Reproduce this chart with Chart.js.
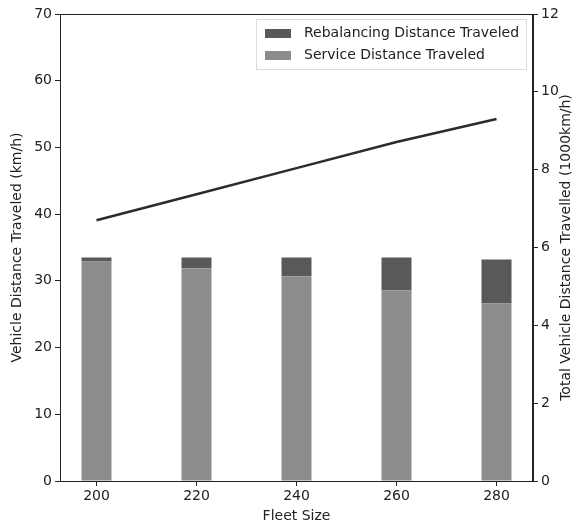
<!DOCTYPE html>
<html>
<head>
<meta charset="utf-8">
<script src="https://cdn.jsdelivr.net/npm/chart.js@4"></script>
<style>
  body { margin: 0; background: #fff; }
  #wrap { width: 579px; height: 526px; }
</style>
</head>
<body>
<div id="wrap"><canvas id="fleetChart" width="579" height="526"></canvas></div>
<script>
// Fleet sizes and per-vehicle distances (km/h)
const fleetSizes = [200, 220, 240, 260, 280];
const serviceDistance = [32.9, 31.9, 30.7, 28.6, 26.6];
const rebalancingDistance = [0.6, 1.6, 2.8, 4.9, 6.6];
// Total fleet distance (1000 km/h)
const totalDistance = [6.70, 7.37, 8.04, 8.71, 9.30];

const leftTicks = [0, 10, 20, 30, 40, 50, 60, 70];
const rightTicks = [0, 2, 4, 6, 8, 10, 12];

const FONT = 'DejaVu Sans';
const INK = '#222';
const RIGHT_TITLE = 'Total Vehicle Distance Travelled (1000km/h)';

function toPoints(values) {
    return fleetSizes.map((f, i) => ({ x: f, y: values[i] }));
}

// Legend inside the plot area, box around the axes, right-hand axis title
const framePlugin = {
    id: 'frame',
    afterDraw(chart) {
        const ctx = chart.ctx;
        const a = chart.chartArea;
        ctx.save();
        ctx.strokeStyle = INK;
        ctx.lineWidth = 1;
        ctx.strokeRect(a.left + 0.5, a.top + 0.5, a.right - a.left - 1, a.bottom - a.top);

        // faint legend frame
        ctx.strokeStyle = '#dcdcdc';
        ctx.strokeRect(256.5, 19.5, 270, 50);

        const items = [chart.data.datasets[1], chart.data.datasets[0]];
        ctx.font = '14px "' + FONT + '"';
        ctx.textBaseline = 'middle';
        items.forEach((ds, i) => {
            const y = 33 + i * 22;
            ctx.fillStyle = ds.backgroundColor;
            ctx.fillRect(265, y - 4, 26, 9);
            ctx.fillStyle = INK;
            ctx.fillText(ds.label, 304, y);
        });

        // rotated so it reads bottom-to-top, same as the left title
        ctx.translate(566, (a.top + a.bottom) / 2);
        ctx.rotate(-Math.PI / 2);
        ctx.font = '14px "' + FONT + '"';
        ctx.textAlign = 'center';
        ctx.fillText(RIGHT_TITLE, 0, 0);
        ctx.restore();
    }
};

const ctx = document.getElementById('fleetChart').getContext('2d');
const chart = new Chart(ctx, {
    type: 'bar',
    data: {
        datasets: [
            {
                label: 'Service Distance Traveled',
                data: toPoints(serviceDistance),
                backgroundColor: '#8c8c8c',
                yAxisID: 'y',
                stack: 'vdt',
                barPercentage: 0.3,
                categoryPercentage: 1,
                order: 2
            },
            {
                label: 'Rebalancing Distance Traveled',
                data: toPoints(rebalancingDistance),
                backgroundColor: '#595959',
                yAxisID: 'y',
                stack: 'vdt',
                barPercentage: 0.3,
                categoryPercentage: 1,
                order: 2
            },
            {
                type: 'line',
                label: 'Total Vehicle Distance',
                data: toPoints(totalDistance),
                borderColor: '#2b2b2b',
                borderWidth: 2.5,
                pointRadius: 0,
                yAxisID: 'y2',
                order: 1
            }
        ]
    },
    options: {
        responsive: false,
        animation: false,
        layout: { padding: { top: 14, right: 0, left: 0, bottom: 0 } },
        plugins: {
            legend: { display: false },
            tooltip: { enabled: false }
        },
        scales: {
            x: {
                type: 'linear',
                stacked: true,
                offset: false,
                min: 192.7,
                max: 287.3,
                afterBuildTicks: s => { s.ticks = fleetSizes.map(v => ({ value: v })); },
                afterFit: s => { s.height = 45; },
                grid: { offset: false, drawOnChartArea: false, tickLength: 5, color: INK },
                border: { color: INK },
                ticks: { color: INK, padding: 2, font: { family: FONT, size: 14 } },
                title: {
                    display: true,
                    text: 'Fleet Size',
                    color: INK,
                    padding: { top: 0, bottom: 1 },
                    font: { family: FONT, size: 14 }
                }
            },
            y: {
                position: 'left',
                stacked: true,
                min: 0,
                max: 70,
                afterBuildTicks: s => { s.ticks = leftTicks.map(v => ({ value: v })); },
                afterFit: s => { s.width = 60; },
                grid: { drawOnChartArea: false, tickLength: 5, color: INK },
                border: { color: INK },
                ticks: { color: INK, padding: 3, font: { family: FONT, size: 14 } },
                title: {
                    display: true,
                    text: 'Vehicle Distance Traveled (km/h)',
                    color: INK,
                    padding: { top: 9, bottom: 0 },
                    font: { family: FONT, size: 14 }
                }
            },
            y2: {
                position: 'right',
                min: 0,
                max: 12,
                afterBuildTicks: s => { s.ticks = rightTicks.map(v => ({ value: v })); },
                afterFit: s => { s.width = 46; },
                grid: { drawOnChartArea: false, tickLength: 5, color: INK },
                border: { color: INK },
                ticks: { color: INK, padding: 3, font: { family: FONT, size: 14 } }
            }
        }
    },
    plugins: [framePlugin]
});
</script>
</body>
</html>
